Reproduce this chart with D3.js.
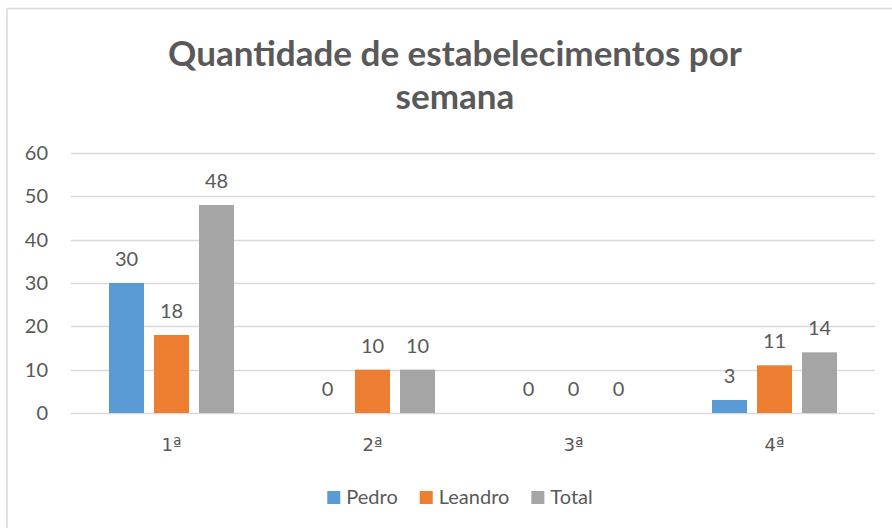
<!DOCTYPE html>
<html>
<head>
<meta charset="utf-8">
<script src="https://cdn.jsdelivr.net/npm/d3@7"></script>
<style>
  body { margin: 0; background: #fff; }
  text { font-family: Lato, "Open Sans", sans-serif; fill: #595959; }
</style>
</head>
<body>
<div id="chart"></div>
<script>
const categories = ["1ª", "2ª", "3ª", "4ª"]
const seriesNames = ["Pedro", "Leandro", "Total"]
const pedro = [30, 0, 0, 3]
const leandro = [18, 10, 0, 11]
const total = [48, 10, 0, 14]
const yTicks = [0, 10, 20, 30, 40, 50, 60]
const colors = ["#5B9BD5", "#ED7D31", "#A5A5A5"]

const W = 892, H = 528
const MARGIN = { LEFT: 71, RIGHT: 17, TOP: 153, BOTTOM: 115 }

const svg = d3.select("#chart").append("svg")
  .attr("width", W)
  .attr("height", H)

// chart border
svg.append("rect")
  .attr("x", 7).attr("y", 8.5)
  .attr("width", 920).attr("height", 560)
  .attr("fill", "none")
  .attr("stroke", "#D9D9D9")
  .attr("stroke-width", 1.5)

// title, fit to width seen in the picture
const title = svg.append("text")
  .attr("text-anchor", "middle")
  .attr("font-weight", "bold")
  .attr("font-size", "32px")
title.append("tspan").attr("x", 455).attr("y", 66).text("Quantidade de estabelecimentos por")
title.append("tspan").attr("x", 455).attr("y", 109).text("semana")
const tw = title.select("tspan").node().getComputedTextLength()
title.attr("font-size", (32 * 574 / tw) + "px")

// scales
const x = d3.scaleBand().domain(categories).range([MARGIN.LEFT, W - MARGIN.RIGHT])
const y = d3.scaleLinear().domain([0, 60]).range([H - MARGIN.BOTTOM, MARGIN.TOP])
const xs = d3.scaleBand().domain(seriesNames).range([0, 125]).paddingInner(10 / 45)

// gridlines
svg.append("g")
  .selectAll("line")
  .data(yTicks)
  .join("line")
  .attr("x1", MARGIN.LEFT).attr("x2", W - MARGIN.RIGHT)
  .attr("y1", d => Math.round(y(d)) + 0.5).attr("y2", d => Math.round(y(d)) + 0.5)
  .attr("stroke", "#D9D9D9")
  .attr("stroke-width", 1.5)

// y axis labels
svg.append("g")
  .selectAll("text")
  .data(yTicks)
  .join("text")
  .attr("x", 48)
  .attr("y", d => y(d))
  .attr("dy", "0.35em")
  .attr("text-anchor", "end")
  .attr("font-size", "20px")
  .text(d => d)

// x axis labels
svg.append("g")
  .selectAll("text")
  .data(categories)
  .join("text")
  .attr("x", d => x(d) + x.bandwidth() / 2)
  .attr("y", 451)
  .attr("text-anchor", "middle")
  .attr("font-size", "18px")
  .style("font-family", "'DejaVu Sans', sans-serif")
  .text(d => d)

// bars
const rows = [pedro, leandro, total]
const data = []
categories.forEach((c, i) => {
  seriesNames.forEach((s, j) => {
    data.push({ cat: c, series: s, value: rows[j][i], color: colors[j] })
  })
})

const groupOffset = d => x(d.cat) + (x.bandwidth() - 125) / 2 + xs(d.series)

svg.append("g")
  .selectAll("rect")
  .data(data.filter(d => d.value > 0))
  .join("rect")
  .attr("x", groupOffset)
  .attr("y", d => y(d.value))
  .attr("width", xs.bandwidth())
  .attr("height", d => y(0) - y(d.value))
  .attr("fill", d => d.color)

// data labels
svg.append("g")
  .selectAll("text")
  .data(data)
  .join("text")
  .attr("x", d => groupOffset(d) + xs.bandwidth() / 2)
  .attr("y", d => y(d.value) - 17)
  .attr("text-anchor", "middle")
  .attr("font-size", "20px")
  .text(d => d.value)

// legend
const legend = svg.append("g")
const items = legend.selectAll("g")
  .data(seriesNames)
  .join("g")
items.append("rect")
  .attr("width", 13).attr("height", 13)
  .attr("y", 491)
  .attr("fill", (d, i) => colors[i])
items.append("text")
  .attr("x", 19)
  .attr("y", 504)
  .attr("font-size", "20px")
  .text(d => d)
let offs = [], cur = 0
items.each(function () {
  offs.push(cur)
  cur += this.getBBox().width + 22
})
const totalW = cur - 22
items.attr("transform", (d, i) => `translate(${460 - totalW / 2 + offs[i]}, 0)`)
</script>
</body>
</html>
